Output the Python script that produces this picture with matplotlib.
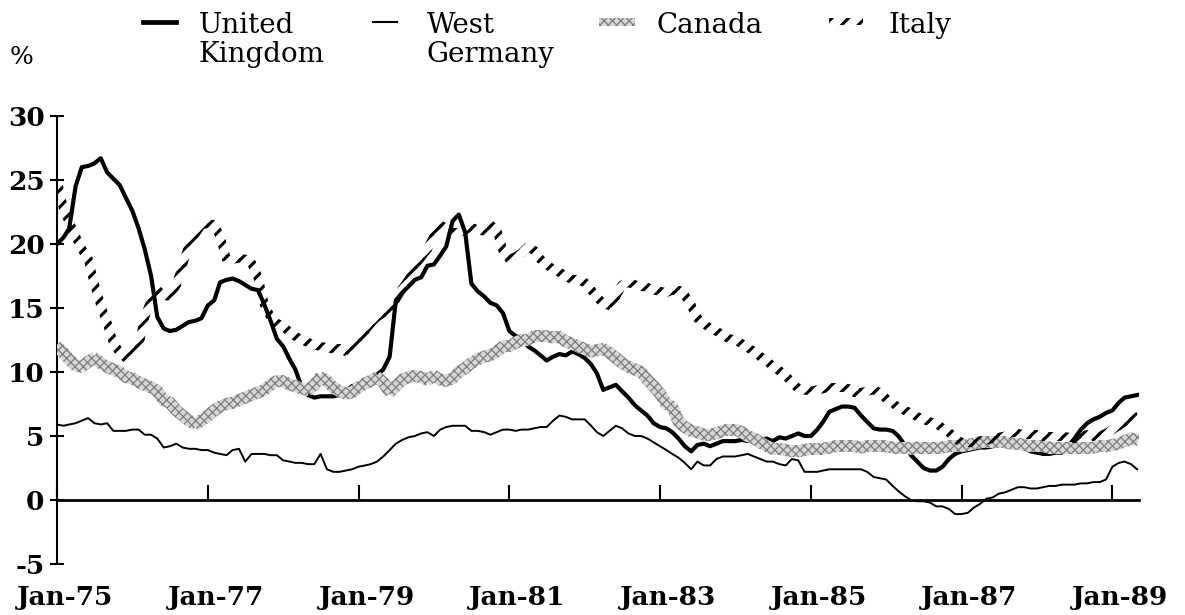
import numpy as np
import pandas as pd
import matplotlib
matplotlib.use("Agg")
import matplotlib.pyplot as plt
import matplotlib.dates as mdates
import matplotlib.transforms as mtransforms
from matplotlib.collections import PolyCollection
from matplotlib.patches import Rectangle
from matplotlib.lines import Line2D

# ---------------- data (monthly, Jan-1975 .. May-1989, % change on a year earlier)
start_month = "1975-01"

uk = [
    20.0, 20.5, 21.2, 24.5, 26.0, 26.1, 26.3, 26.7, 25.6, 25.1, 24.6, 23.6,
    22.6, 21.2, 19.6, 17.5, 14.3, 13.4, 13.2, 13.3, 13.6, 13.9, 14.0, 14.2,
    15.2, 15.6, 17.0, 17.2, 17.3, 17.1, 16.8, 16.5, 16.4, 15.3, 14.0, 12.6,
    12.0, 11.0, 10.2, 8.8, 8.2, 8.0, 8.1, 8.1, 8.1, 8.2, 8.5, 8.9,
    9.0, 9.4, 9.6, 9.8, 10.2, 11.2, 15.6, 16.2, 16.7, 17.2, 17.4, 18.3,
    18.4, 19.1, 19.8, 21.8, 22.3, 20.9, 16.9, 16.3, 15.9, 15.4, 15.2, 14.6,
    13.2, 12.8, 12.7, 12.0, 11.7, 11.3, 10.9, 11.2, 11.4, 11.3, 11.6, 11.4,
    11.1, 10.6, 9.9, 8.6, 8.8, 9.0, 8.5, 8.0, 7.4, 7.0, 6.6, 6.0,
    5.7, 5.6, 5.3, 4.8, 4.2, 3.8, 4.3, 4.4, 4.2, 4.4, 4.6, 4.6,
    4.6, 4.7, 4.6, 4.8, 4.7, 4.8, 4.6, 4.9, 4.8, 5.0, 5.2, 5.0,
    5.0, 5.5, 6.1, 6.9, 7.1, 7.3, 7.3, 7.2, 6.6, 6.1, 5.6, 5.5,
    5.5, 5.4, 5.0, 4.3, 3.5, 3.0, 2.5, 2.3, 2.3, 2.6, 3.2, 3.6,
    3.8, 3.9, 4.0, 4.1, 4.1, 4.2, 4.3, 4.3, 4.2, 4.3, 4.1, 3.8,
    3.7, 3.6, 3.6, 3.7, 3.7, 4.2, 4.8, 5.5, 6.0, 6.3, 6.5, 6.8,
    7.0, 7.6, 8.0, 8.1, 8.2,
]

west_germany = [
    5.9, 5.8, 5.9, 6.0, 6.2, 6.4, 6.0, 5.9, 6.0, 5.4, 5.4, 5.4,
    5.5, 5.5, 5.1, 5.1, 4.8, 4.1, 4.2, 4.4, 4.1, 4.0, 4.0, 3.9,
    3.9, 3.7, 3.6, 3.5, 3.9, 4.0, 3.0, 3.6, 3.6, 3.6, 3.5, 3.5,
    3.1, 3.0, 2.9, 2.9, 2.8, 2.8, 3.6, 2.4, 2.2, 2.2, 2.3, 2.4,
    2.6, 2.7, 2.8, 3.0, 3.4, 3.9, 4.4, 4.7, 4.9, 5.0, 5.2, 5.3,
    5.0, 5.5, 5.7, 5.8, 5.8, 5.8, 5.4, 5.4, 5.3, 5.1, 5.3, 5.5,
    5.5, 5.4, 5.5, 5.5, 5.6, 5.7, 5.7, 6.2, 6.6, 6.5, 6.3, 6.3,
    6.3, 5.8, 5.3, 5.0, 5.4, 5.8, 5.6, 5.2, 5.0, 5.0, 4.8, 4.5,
    4.2, 3.9, 3.6, 3.3, 2.9, 2.4, 3.0, 2.7, 2.7, 3.2, 3.4, 3.4,
    3.4, 3.5, 3.6, 3.4, 3.2, 3.0, 3.0, 2.8, 2.7, 3.2, 3.1, 2.2,
    2.2, 2.2, 2.3, 2.4, 2.4, 2.4, 2.4, 2.4, 2.4, 2.2, 1.8, 1.7,
    1.6, 1.1, 0.7, 0.3, 0.0, -0.1, -0.1, -0.2, -0.5, -0.5, -0.7, -1.1,
    -1.1, -1.0, -0.6, -0.3, 0.1, 0.2, 0.5, 0.6, 0.8, 1.0, 1.0, 0.9,
    0.9, 1.0, 1.1, 1.1, 1.2, 1.2, 1.2, 1.3, 1.3, 1.4, 1.4, 1.6,
    2.6, 2.9, 3.0, 2.8, 2.4,
]

canada = [
    12.0, 11.5, 11.0, 10.5, 10.4, 10.8, 11.1, 10.7, 10.4, 10.2, 10.0, 9.6,
    9.5, 9.2, 9.0, 8.8, 8.5, 7.8, 7.6, 7.0, 6.6, 6.2, 5.9, 6.2,
    6.6, 7.0, 7.3, 7.5, 7.6, 7.8, 8.0, 8.2, 8.4, 8.6, 9.0, 9.3,
    9.3, 9.0, 8.9, 8.7, 8.6, 9.0, 9.6, 9.3, 8.8, 8.5, 8.3, 8.4,
    8.8, 9.1, 9.3, 9.6, 9.2, 8.4, 8.9, 9.4, 9.6, 9.7, 9.6, 9.4,
    9.7, 9.4, 9.3, 9.5, 10.0, 10.3, 10.7, 11.0, 11.2, 11.3, 11.6, 12.0,
    12.0, 12.3, 12.5, 12.5, 12.8, 12.8, 12.8, 12.7, 12.7, 12.4, 12.2, 12.0,
    11.8, 11.6, 11.7, 11.8, 11.5, 11.1, 10.7, 10.4, 10.2, 10.0, 9.4, 8.9,
    8.3, 7.5, 7.3, 6.1, 5.7, 5.4, 5.3, 5.1, 5.1, 5.2, 5.4, 5.5,
    5.5, 5.3, 5.0, 4.8, 4.5, 4.2, 4.0, 4.0, 3.9, 3.8, 3.8, 3.9,
    4.0, 4.0, 4.0, 4.1, 4.2, 4.2, 4.2, 4.2, 4.1, 4.2, 4.2, 4.2,
    4.2, 4.1, 4.1, 4.1, 4.0, 4.1, 4.1, 4.1, 4.1, 4.1, 4.2, 4.2,
    4.2, 4.3, 4.4, 4.5, 4.5, 4.5, 4.5, 4.5, 4.4, 4.4, 4.3, 4.2,
    4.2, 4.2, 4.1, 4.1, 4.1, 4.1, 4.1, 4.1, 4.1, 4.1, 4.2, 4.2,
    4.3, 4.4, 4.6, 4.8, 4.7,
]

italy = [
    25.0, 22.8, 21.7, 20.6, 19.6, 18.8, 16.9, 15.2, 13.8, 12.3, 11.5, 11.1,
    11.3, 12.0, 14.3, 15.6, 16.4, 16.0, 15.9, 16.8, 18.4, 19.9, 20.8, 21.5,
    21.6, 21.5, 20.6, 18.8, 18.8, 18.9, 18.8, 18.5, 17.4, 15.3, 14.3, 13.8,
    13.6, 13.1, 12.8, 12.5, 12.3, 12.1, 12.0, 11.9, 11.8, 11.8, 11.6, 11.9,
    12.6, 13.2, 13.8, 14.3, 14.6, 15.1, 15.7, 16.5, 17.2, 18.2, 19.0, 19.6,
    20.6, 21.5, 21.2, 20.9, 20.9, 21.1, 21.3, 21.1, 21.0, 21.5, 21.1, 19.5,
    18.8, 19.0, 19.3, 19.8, 19.5, 18.8, 18.4, 18.0, 17.8, 17.5, 17.2, 17.2,
    17.0, 16.4, 15.9, 15.3, 15.2, 15.9, 16.8, 17.0, 16.8, 16.7, 16.6, 16.4,
    16.3, 16.2, 16.4, 16.4, 16.0, 15.2, 14.2, 13.8, 13.4, 13.2, 12.9, 12.6,
    12.5, 12.2, 11.9, 11.6, 11.2, 10.9, 10.4, 10.1, 9.7, 9.2, 8.7, 8.6,
    8.5, 8.6, 8.7, 8.8, 8.8, 8.8, 8.7, 8.4, 8.4, 8.5, 8.6, 8.4,
    7.9, 7.6, 7.2, 7.0, 6.8, 6.5, 6.3, 6.1, 6.0, 5.6, 5.3, 4.8,
    4.5, 4.5, 4.5, 4.6, 4.7, 4.8, 4.9, 5.0, 5.3, 5.2, 5.1, 5.1,
    5.1, 5.0, 5.0, 5.0, 5.0, 4.9, 4.8, 5.0, 5.1, 5.0, 5.0, 5.2,
    5.5, 5.8, 6.1, 6.3, 6.5,
]

series_labels = ["United\nKingdom", "West\nGermany", "Canada", "Italy"]
y_ticks = [-5, 0, 5, 10, 15, 20, 25, 30]
x_tick_years = [1975, 1977, 1979, 1981, 1983, 1985, 1987, 1989]
y_unit_label = "%"

# ---------------- style
W, H = 1185, 615
plt.rcParams["font.family"] = ["DejaVu Serif"]
plt.rcParams["hatch.linewidth"] = 2.2

CAN_FACE, CAN_HATCH, CAN_HLW = "#d6d6d6", "#7c7c7c", 0.9
ITA_HLW = 2.2


def set_hlw(artist, lw):
    if hasattr(artist, "set_hatch_linewidth"):
        try:
            artist.set_hatch_linewidth(lw)
        except Exception:
            pass


fig = plt.figure(figsize=(W / 100, H / 100), dpi=100)
ax = fig.add_axes([57 / W, 51 / H, 1082 / W, 448 / H])

dates = pd.date_range(start_month, periods=len(uk), freq="MS")
xnum = mdates.date2num(dates)

ax.set_xlim(mdates.date2num(pd.Timestamp("1975-01-01")),
            mdates.date2num(pd.Timestamp("1989-05-10")))
ax.set_ylim(y_ticks[0], y_ticks[-1])


def band(ax, x, y, half_px, ext_px=1.2, **kw):
    """Polygon band of constant pixel thickness following a series."""
    pts = ax.transData.transform(np.column_stack([x, y]))
    inv = ax.transData.inverted()
    quads = []
    for p0, p1 in zip(pts[:-1], pts[1:]):
        d = p1 - p0
        L = np.hypot(*d)
        if L == 0:
            continue
        u = d / L
        n = np.array([-u[1], u[0]]) * half_px
        a = p0 - u * ext_px
        b = p1 + u * ext_px
        quads.append(inv.transform(np.array([a + n, b + n, b - n, a - n])))
    pc = PolyCollection(quads, **kw)
    ax.add_collection(pc)
    return pc


# United Kingdom: thick black line
ax.plot(xnum, uk, color="black", lw=3.0, zorder=2)
# West Germany: thin black line
ax.plot(xnum, west_germany, color="black", lw=1.4, zorder=2)
# Canada: stippled grey band
pc_can = band(ax, xnum, canada, 6.0, facecolor=CAN_FACE, edgecolor=CAN_HATCH,
              hatch="xxxx", linewidth=0, zorder=3)
set_hlw(pc_can, CAN_HLW)
# Italy: hatched band
pc_ita = band(ax, xnum, italy, 4.5, facecolor="none", edgecolor="black",
              hatch="//", linewidth=0, zorder=4)
set_hlw(pc_ita, ITA_HLW)

# ---------------- axes styling
for s in ["top", "right"]:
    ax.spines[s].set_visible(False)
ax.spines["bottom"].set_position(("data", 0))
ax.spines["bottom"].set_linewidth(2.0)
ax.spines["left"].set_linewidth(1.5)

ax.xaxis.set_major_locator(
    matplotlib.ticker.FixedLocator(
        mdates.date2num([pd.Timestamp(f"{y}-01-01") for y in x_tick_years])))
ax.xaxis.set_major_formatter(mdates.DateFormatter("%b-%y"))
ax.set_yticks(y_ticks)
ax.set_yticklabels([f"{v}" for v in y_ticks])

ax.tick_params(axis="x", direction="in", length=11, width=1.5, pad=61,
               labelsize=19)
ax.tick_params(axis="y", direction="inout", length=10, width=1.5, pad=4,
               labelsize=19)
shift = mtransforms.ScaledTranslation(8 / 100, 0, fig.dpi_scale_trans)
for lab in ax.get_xticklabels():
    lab.set_fontweight("bold")
    lab.set_transform(lab.get_transform() + shift)
for lab in ax.get_yticklabels():
    lab.set_fontweight("bold")


# ---------------- legend (drawn manually, as in the original)
def fx(px):
    return px / W


def fy(py):
    return 1 - py / H


LEG_FS = 20
fig.text(fx(10), fy(58), y_unit_label, fontsize=18, va="center", ha="left")

leg_y = 22
text_top = 12
# UK handle
fig.add_artist(Line2D([fx(143), fx(176)], [fy(leg_y), fy(leg_y)],
                      color="black", lw=3.4, transform=fig.transFigure))
fig.text(fx(199), fy(text_top), series_labels[0], fontsize=LEG_FS, va="top",
         ha="left", linespacing=1.1)
# West Germany handle
fig.add_artist(Line2D([fx(373), fx(397)], [fy(leg_y), fy(leg_y)],
                      color="black", lw=1.5, transform=fig.transFigure))
fig.text(fx(427), fy(text_top), series_labels[1], fontsize=LEG_FS, va="top",
         ha="left", linespacing=1.1)
# Canada handle
r_can = Rectangle((fx(599), fy(leg_y + 4)), fx(36), 8 / H,
                  facecolor=CAN_FACE, edgecolor=CAN_HATCH, hatch="xxxx",
                  linewidth=0, transform=fig.transFigure)
set_hlw(r_can, CAN_HLW)
fig.add_artist(r_can)
fig.text(fx(656), fy(text_top), series_labels[2], fontsize=LEG_FS, va="top",
         ha="left")
# Italy handle
r_ita = Rectangle((fx(829), fy(leg_y + 3)), fx(34), 7 / H,
                  facecolor="none", edgecolor="black", hatch="//",
                  linewidth=0, transform=fig.transFigure)
set_hlw(r_ita, ITA_HLW)
fig.add_artist(r_ita)
fig.text(fx(889), fy(text_top), series_labels[3], fontsize=LEG_FS, va="top",
         ha="left")

fig.savefig("out.png", dpi=100)
